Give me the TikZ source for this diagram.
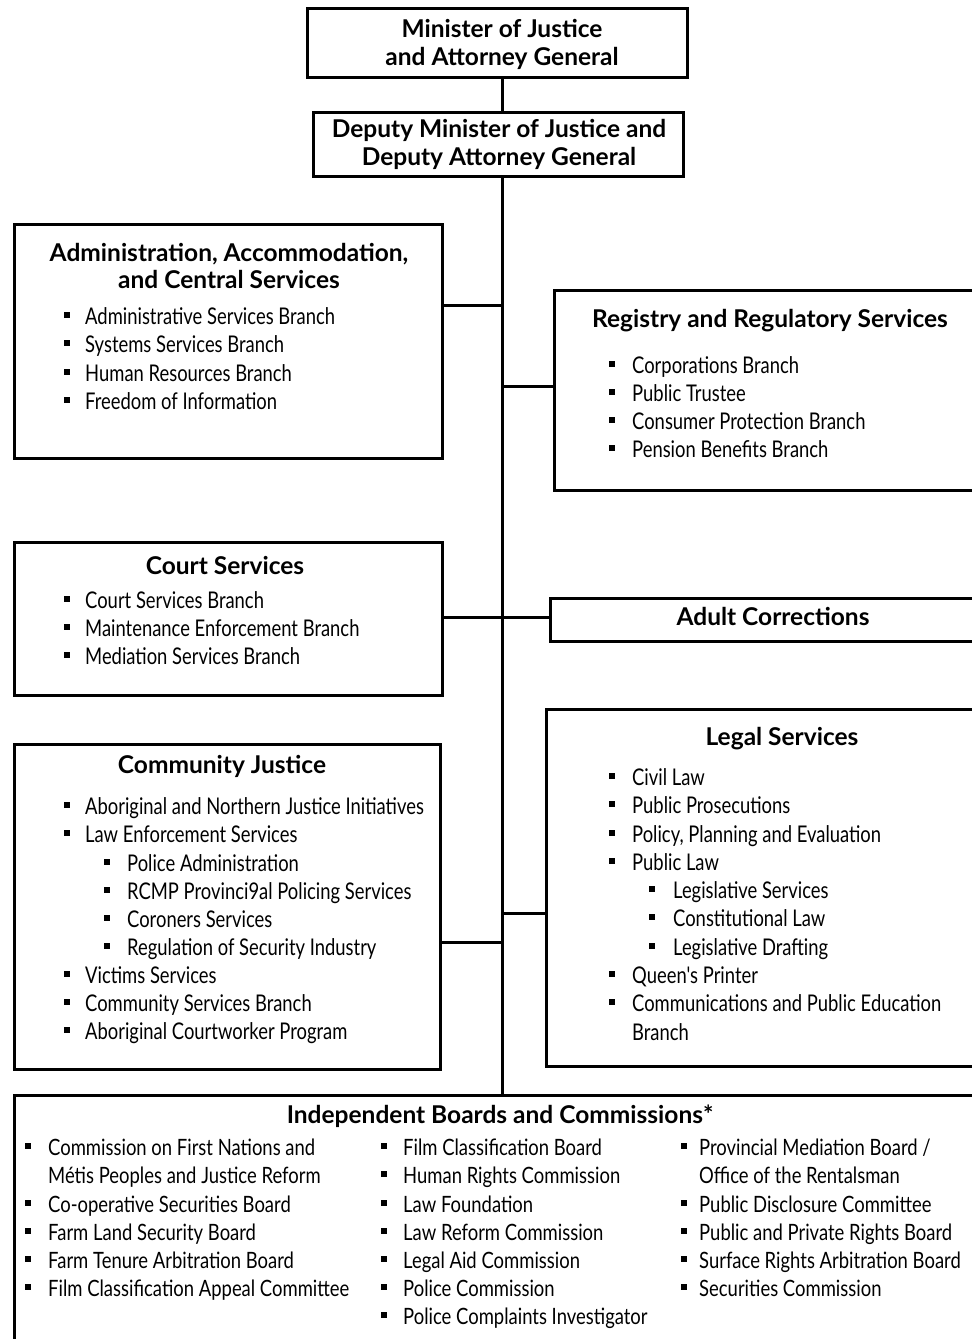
\documentclass[tikz,border=0pt]{standalone}
\usepackage{fontspec}
\setmainfont{Lato}
\newfontfamily\itemfont[FakeStretch=0.8]{Lato}
\newfontfamily\itemfontb[FakeStretch=0.82]{Lato}
\tikzset{
  x=1pt, y=-1pt,
  box/.style={draw, line width=3pt, rectangle, inner sep=0pt, anchor=north west},
  conn/.style={line width=3pt},
  head/.style={font=\fontsize{24.5}{29}\selectfont\bfseries, inner sep=0pt, anchor=base},
  itm/.style={font=\itemfont\fontsize{23}{28}\selectfont, inner sep=0pt, anchor=base west},
  itmb/.style={font=\itemfontb\fontsize{22.5}{28}\selectfont, inner sep=0pt, anchor=base west},
}
\newcommand\bul[1][15pt]{\llap{\rule[6pt]{6.5pt}{6.5pt}\hspace{#1}}\ignorespaces}
\newcommand\bulb[1][15pt]{\llap{\rule[6pt]{6pt}{6pt}\hspace{#1}}\ignorespaces}
\begin{document}
\begin{tikzpicture}
\clip (0,0) rectangle (972,1339);
\fill[white] (0,0) rectangle (972,1339);
% boxes
\node[box, minimum width=380pt, minimum height=69pt] (min) at (306,7) {};
\node[box, minimum width=370pt, minimum height=64pt] (dep) at (312,111) {};
\node[box, minimum width=428pt, minimum height=234pt] (adm) at (13,223) {};
\node[box, minimum width=437pt, minimum height=200pt] (reg) at (553,289) {};
\node[box, minimum width=428pt, minimum height=153pt] (crt) at (13,541) {};
\node[box, minimum width=441pt, minimum height=43pt] (adl) at (549,597) {};
\node[box, minimum width=426pt, minimum height=325pt] (com) at (13,743) {};
\node[box, minimum width=445pt, minimum height=357pt] (leg) at (545,708) {};
\node[box, minimum width=977pt, minimum height=266pt] (ind) at (13,1094) {};
% spine and connectors
\coordinate (sp) at (502,0);
\draw[conn] (min.south -| sp) -- (dep.north -| sp);
\draw[conn] (dep.south -| sp) -- (ind.north -| sp);
\coordinate (jA) at (502,305);
\coordinate (jR) at (502,386);
\coordinate (jC) at (502,617);
\coordinate (jM) at (502,942);
\coordinate (jL) at (502,913);
\draw[conn] (jA) -- (jA -| adm.east);
\draw[conn] (jR) -- (jR -| reg.west);
\draw[conn] (jC -| crt.east) -- (jC -| adl.west);
\draw[conn] (jM) -- (jM -| com.east);
\draw[conn] (jL) -- (jL -| leg.west);
% top boxes
\node[head] (t1) at (502,37) {Minister of Justice};
\node[head] (t2) at (502,65) {and Attorney General};
\node[head] (t3) at (499,137) {Deputy Minister of Justice and};
\node[head] (t4) at (499,165) {Deputy Attorney General};
% admin
\node[head] (a0) at (229,261) {Administration, Accommodation,};
\node[head] (a00) at (229,288) {and Central Services};
\node[itm] (a1) at (85,324) {\bul Administrative Services Branch};
\node[itm] (a2) at (85,352) {\bul Systems Services Branch};
\node[itm] (a3) at (85,381) {\bul Human Resources Branch};
\node[itm] (a4) at (85,409) {\bul Freedom of Information};
% registry
\node[head] (r0) at (770,327) {Registry and Regulatory Services};
\node[itm] (r1) at (632,373) {\bul[17pt]Corporations Branch};
\node[itm] (r2) at (632,401) {\bul[17pt]Public Trustee};
\node[itm] (r3) at (632,429) {\bul[17pt]Consumer Protection Branch};
\node[itm] (r4) at (632,457) {\bul[17pt]Pension Benefits Branch};
% court
\node[head] (c0) at (225,574) {Court Services};
\node[itm] (c1) at (85,608) {\bul Court Services Branch};
\node[itm] (c2) at (85,636) {\bul Maintenance Enforcement Branch};
\node[itm] (c3) at (85,664) {\bul Mediation Services Branch};
% adult
\node[head] (d0) at (773,625) {Adult Corrections};
% community
\node[head] (m0) at (222,773) {Community Justice};
\node[itm] (m1) at (85,814) {\bul Aboriginal and Northern Justice Initiatives};
\node[itm] (m2) at (85,842) {\bul Law Enforcement Services};
\node[itm] (m3) at (127,871) {\bul[17pt]Police Administration};
\node[itm] (m4) at (127,899) {\bul[17pt]RCMP Provinci9al Policing Services};
\node[itm] (m5) at (127,927) {\bul[17pt]Coroners Services};
\node[itm] (m6) at (127,955) {\bul[17pt]Regulation of Security Industry};
\node[itm] (m7) at (85,983) {\bul Victims Services};
\node[itm] (m8) at (85,1011) {\bul Community Services Branch};
\node[itm] (m9) at (85,1039) {\bul Aboriginal Courtworker Program};
% legal
\node[head] (l0) at (782,745) {Legal Services};
\node[itm] (l1) at (632,785) {\bul[17pt]Civil Law};
\node[itm] (l2) at (632,813) {\bul[17pt]Public Prosecutions};
\node[itm] (l3) at (632,842) {\bul[17pt]Policy, Planning and Evaluation};
\node[itm] (l4) at (632,870) {\bul[17pt]Public Law};
\node[itm] (l5) at (673,898) {\bul[18pt]Legislative Services};
\node[itm] (l6) at (673,926) {\bul[18pt]Constitutional Law};
\node[itm] (l7) at (673,955) {\bul[18pt]Legislative Drafting};
\node[itm] (l8) at (632,983) {\bul[17pt]Queen's Printer};
\node[itm] (l9) at (632,1011) {\bul[17pt]Communications and Public Education};
\node[itm] (l10) at (632,1040) {Branch};
% independent
\node[head] (i0) at (500,1123) {Independent Boards and Commissions*};
\node[itmb] (p1) at (48,1155) {\bulb[17pt]Commission on First Nations and};
\node[itmb] (p2) at (48,1183) {Métis Peoples and Justice Reform};
\node[itmb] (p3) at (48,1212) {\bulb[17pt]Co-operative Securities Board};
\node[itmb] (p4) at (48,1240) {\bulb[17pt]Farm Land Security Board};
\node[itmb] (p5) at (48,1268) {\bulb[17pt]Farm Tenure Arbitration Board};
\node[itmb] (p6) at (48,1296) {\bulb[17pt]Film Classification Appeal Committee};
\node[itmb] (q1) at (403,1155) {\bulb[16pt]Film Classification Board};
\node[itmb] (q2) at (403,1183) {\bulb[16pt]Human Rights Commission};
\node[itmb] (q3) at (403,1212) {\bulb[16pt]Law Foundation};
\node[itmb] (q4) at (403,1240) {\bulb[16pt]Law Reform Commission};
\node[itmb] (q5) at (403,1268) {\bulb[16pt]Legal Aid Commission};
\node[itmb] (q6) at (403,1296) {\bulb[16pt]Police Commission};
\node[itmb] (q7) at (403,1324) {\bulb[16pt]Police Complaints Investigator};
\node[itmb] (s1) at (699,1155) {\bulb[12pt]Provincial Mediation Board /};
\node[itmb] (s2) at (699,1183) {Office of the Rentalsman};
\node[itmb] (s3) at (699,1212) {\bulb[12pt]Public Disclosure Committee};
\node[itmb] (s4) at (699,1240) {\bulb[12pt]Public and Private Rights Board};
\node[itmb] (s5) at (699,1268) {\bulb[12pt]Surface Rights Arbitration Board};
\node[itmb] (s6) at (699,1296) {\bulb[12pt]Securities Commission};
\end{tikzpicture}
\end{document}
